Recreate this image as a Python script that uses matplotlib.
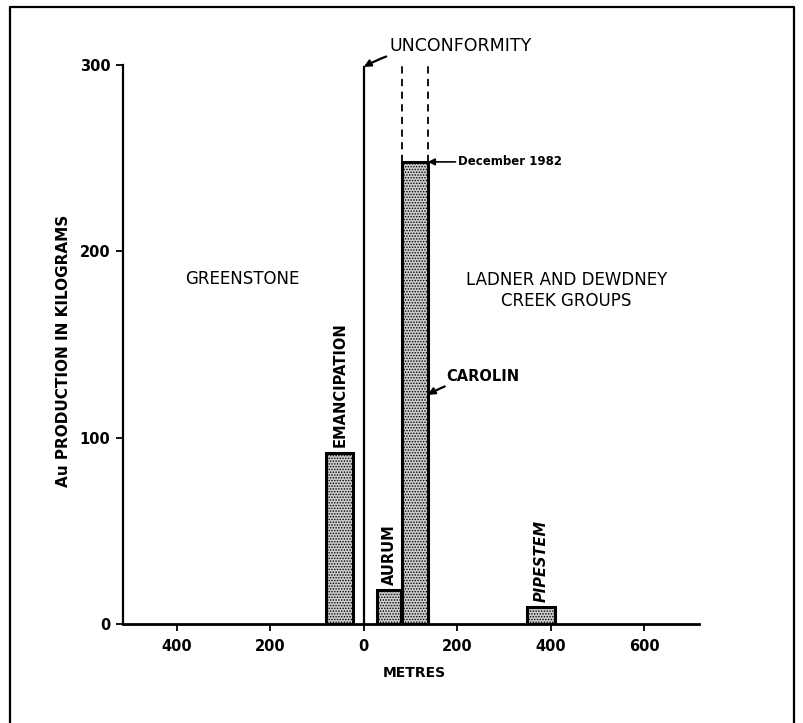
import matplotlib
matplotlib.use('Agg')
import matplotlib.pyplot as plt
from matplotlib.lines import Line2D

# mines: left edge / right edge in metres from the unconformity, Au production in kg
mines = ['EMANCIPATION', 'AURUM', 'CAROLIN', 'PIPESTEM']
left_m = [-80, 28, 82, 350]
right_m = [-22, 80, 137, 410]
au_kg = [92, 18, 248, 9]

x_ticks = [-400, -200, 0, 200, 400, 600]
x_tick_labels = ['400', '200', '0', '200', '400', '600']
y_ticks = [0, 100, 200, 300]

plt.rcParams['font.family'] = ['DejaVu Sans']
plt.rcParams['hatch.linewidth'] = 0.7
plt.rcParams['hatch.color'] = '#555555'

fig = plt.figure(figsize=(8.04, 7.23), dpi=100)
ax = fig.add_axes([0.1530, 0.1369, 0.7164, 0.7732])

widths = [r - l for l, r in zip(left_m, right_m)]
ax.bar(left_m, au_kg, width=widths, align='edge', color='#cdcdcd',
       edgecolor='black', linewidth=2.2, hatch='......', zorder=3)

ax.set_xlim(-515, 717)
ax.set_ylim(0, 300)

ax.spines['top'].set_visible(False)
ax.spines['right'].set_visible(False)
ax.spines['left'].set_linewidth(1.6)
ax.spines['bottom'].set_linewidth(2.0)

ax.set_xticks(x_ticks)
ax.set_xticklabels(x_tick_labels)
ax.set_yticks(y_ticks)
ax.tick_params(axis='x', direction='out', length=5, width=1.3, pad=6, labelsize=10.5)
ax.tick_params(axis='y', direction='out', length=5, width=1.3, pad=4, labelsize=10.5)
for lbl in ax.get_xticklabels() + ax.get_yticklabels():
    lbl.set_fontweight('bold')

# unconformity line and the Carolin dashed extension
ax.plot([0, 0], [0, 299], color='black', lw=1.6, clip_on=False, zorder=2)
ax.plot([left_m[2], left_m[2]], [au_kg[2], 300], color='black', lw=1.3, ls=(0, (4, 3)), clip_on=False)
ax.plot([right_m[2], right_m[2]], [au_kg[2], 300], color='black', lw=1.3, ls=(0, (4, 3)), clip_on=False)

arrow = dict(arrowstyle='-|>', color='black', lw=1.6, mutation_scale=10, shrinkA=0, shrinkB=0)

ax.annotate('UNCONFORMITY', xy=(0, 299), xytext=(54, 310), fontsize=12.5,
            va='center', ha='left', annotation_clip=False,
            arrowprops=dict(arrow, connectionstyle='arc3,rad=0.15'))
ax.annotate('December 1982', xy=(right_m[2], au_kg[2]), xytext=(202, au_kg[2]), fontsize=8.5,
            fontweight='bold', va='center', ha='left',
            arrowprops=dict(arrow, lw=1.2))
ax.annotate('CAROLIN', xy=(right_m[2], 123), xytext=(177, 133), fontsize=10.5,
            fontweight='bold', va='center', ha='left',
            arrowprops=dict(arrow, connectionstyle='arc3,rad=0.1'))

# vertical mine names above the bars
for i, name in enumerate(mines):
    if name == 'CAROLIN':
        continue
    cx = (left_m[i] + right_m[i]) / 2
    ax.text(cx, au_kg[i] + 3, name, rotation=90, ha='center', va='bottom',
            fontsize=10.5, fontweight='bold',
            fontstyle='italic' if name == 'PIPESTEM' else 'normal')

ax.text(-260, 185, 'GREENSTONE', ha='center', va='center', fontsize=12)
ax.text(433, 179, 'LADNER AND DEWDNEY\nCREEK GROUPS', ha='center', va='center',
        fontsize=12, linespacing=1.25)

fig.text(0.0796, 0.5145, 'Au PRODUCTION IN KILOGRAMS', rotation=90, ha='center', va='center',
         fontsize=11, fontweight='bold')
fig.text(0.515, 0.069, 'METRES', ha='center', va='center', fontsize=10, fontweight='bold')

# frame around the figure (open at the bottom)
fig.add_artist(Line2D([0.0124, 0.0124, 0.9876, 0.9876], [0.0, 0.990, 0.990, 0.0],
                      transform=fig.transFigure, color='black', lw=1.6))

fig.savefig('out.png', dpi=100)
